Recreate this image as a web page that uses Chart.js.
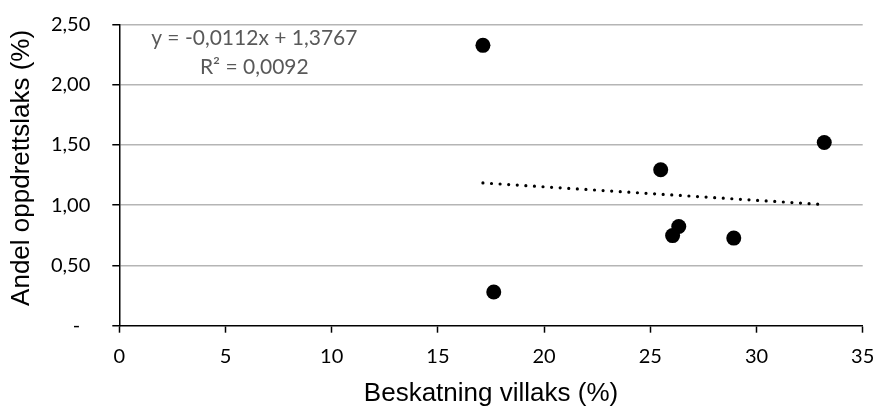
<!DOCTYPE html>
<html>
<head>
<meta charset="utf-8">
<script src="https://cdn.jsdelivr.net/npm/chart.js@4.4.0/dist/chart.umd.min.js"></script>
<style>
  html, body { margin: 0; padding: 0; background: #fff; }
  #wrap { width: 878px; height: 407px; }
</style>
</head>
<body>
<div id="wrap"><canvas id="chart"></canvas></div>
<script>
// data
const villaks = [17.12, 17.63, 25.49, 26.05, 26.34, 28.93, 33.19];
const oppdrett = [2.327, 0.280, 1.294, 0.748, 0.823, 0.727, 1.521];

// trend line ends (Excel linear trend)
const trendX = [17.12, 33.19];
const trendY = [1.185, 1.005];

const eqLines = ["y = -0,0112x + 1,3767", "R² = 0,0092"];
const xTitle = "Beskatning villaks (%)";
const yTitle = "  Andel oppdrettslaks (%)";

const tickFont = { family: "Lato", size: 20 };
const titleFont = { family: "Liberation Sans", size: 26, lineHeight: 1 };

// equation label
const eqPlugin = {
  id: "eq",
  afterDraw(chart) {
    const ctx = chart.ctx;
    const a = chart.chartArea;
    ctx.save();
    ctx.fillStyle = "#595959";
    ctx.font = "21px Lato";
    ctx.textAlign = "center";
    ctx.textBaseline = "middle";
    ctx.fillText(eqLines[0], a.left + 135, a.top + 14);
    ctx.fillText(eqLines[1], a.left + 135, a.top + 43);
    ctx.restore();
  },
};

const ctx = document.getElementById("chart").getContext("2d");
new Chart(ctx, {
  type: "scatter",
  data: {
    datasets: [
      {
        label: "data",
        data: villaks.map((x, i) => ({ x: x, y: oppdrett[i] })),
        backgroundColor: "#000",
        borderWidth: 0,
        pointRadius: 7.5,
        order: 1,
      },
      {
        type: "line",
        label: "trend",
        data: trendX.map((x, i) => ({ x: x, y: trendY[i] })),
        borderColor: "#000",
        borderWidth: 3.2,
        borderDash: [0, 8.6],
        borderCapStyle: "round",
        pointRadius: 0,
        fill: false,
        order: 2,
      },
    ],
  },
  options: {
    responsive: true,
    maintainAspectRatio: false,
    animation: false,
    layout: { padding: { top: 24.5, right: 15.3, left: 0, bottom: 0 } },
    plugins: {
      legend: { display: false },
      tooltip: { enabled: false },
    },
    scales: {
      x: {
        type: "linear",
        min: 0,
        max: 35,
        afterFit: (s) => {
          s.height = 81.3;
          s.paddingLeft = 0;
          s.paddingRight = 0;
        },
        ticks: { stepSize: 5, color: "#000", font: tickFont, padding: 12 },
        grid: { drawOnChartArea: false, drawTicks: true, tickLength: 7, tickColor: "#000", tickWidth: 1.5 },
        border: { color: "#000", width: 1.5 },
        title: { display: true, text: xTitle, color: "#000", font: titleFont, padding: { top: 0, bottom: 0.4 } },
      },
      y: {
        min: 0,
        max: 2.5,
        afterFit: (s) => {
          s.width = 119.3;
          s.paddingTop = 0;
          s.paddingBottom = 0;
        },
        ticks: {
          stepSize: 0.5,
          color: "#000",
          font: tickFont,
          padding: 22,
          callback: (v) => (v === 0 ? "-\u2002" : v.toFixed(2).replace(".", ",")),
        },
        grid: { color: (c) => (c.tick && c.tick.value === 0 ? "rgba(0,0,0,0)" : "#b5b5b5"), lineWidth: 1.5, tickLength: 7, tickColor: "#000", tickWidth: 1.5 },
        border: { color: "#000", width: 1.5 },
        title: { display: true, text: yTitle, color: "#000", font: titleFont, padding: { top: 8.4, bottom: 0 } },
      },
    },
  },
  plugins: [eqPlugin],
});
</script>
</body>
</html>
